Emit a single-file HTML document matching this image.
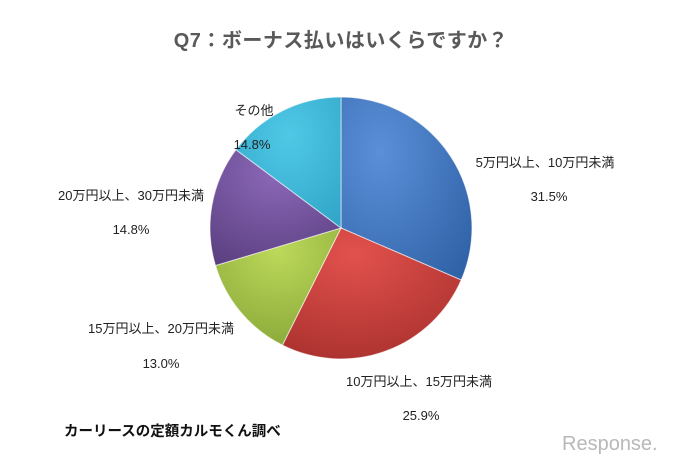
<!DOCTYPE html>
<html><head><meta charset="utf-8"><style>
body{margin:0;background:#fff;}
svg text{font-family:"Liberation Sans","Noto Sans CJK JP",sans-serif;}
</style></head><body>
<svg width="681" height="464" xmlns="http://www.w3.org/2000/svg">
<defs>
<radialGradient id="gb" cx="0.3" cy="0.3" r="0.9"><stop offset="0" stop-color="#5b8fd8"/><stop offset="1" stop-color="#2f62a6"/></radialGradient>
<radialGradient id="gr" cx="0.4" cy="0.2" r="0.9"><stop offset="0" stop-color="#e2514d"/><stop offset="1" stop-color="#a8302d"/></radialGradient>
<radialGradient id="gg" cx="0.5" cy="0.2" r="0.9"><stop offset="0" stop-color="#bcd95a"/><stop offset="1" stop-color="#86a536"/></radialGradient>
<radialGradient id="gp" cx="0.5" cy="0.2" r="0.9"><stop offset="0" stop-color="#8c68b8"/><stop offset="1" stop-color="#5a3f80"/></radialGradient>
<radialGradient id="gc" cx="0.5" cy="0.3" r="0.9"><stop offset="0" stop-color="#4fc8e6"/><stop offset="1" stop-color="#2ea2c4"/></radialGradient>
</defs>
<text x="341" y="47" text-anchor="middle" font-size="20" font-weight="bold" fill="#595959" letter-spacing="0.5">Q7：ボーナス払いはいくらですか？</text>
<g stroke="#ffffff" stroke-opacity="0.6" stroke-width="1">
<path d="M341,228 L341,97 A131,131 0 0 1 461.2,280 Z" fill="url(#gb)"/>
<path d="M341,228 L461.2,280 A131,131 0 0 1 282.4,345.1 Z" fill="url(#gr)"/>
<path d="M341,228 L282.4,345.1 A131,131 0 0 1 215.5,265.5 Z" fill="url(#gg)"/>
<path d="M341,228 L215.5,265.5 A131,131 0 0 1 235.9,149.7 Z" fill="url(#gp)"/>
<path d="M341,228 L235.9,149.7 A131,131 0 0 1 341,97 Z" fill="url(#gc)"/>
</g>
<g font-size="13" fill="#222">
<text x="254" y="115" text-anchor="middle">その他</text>
<text x="252" y="149" text-anchor="middle">14.8%</text>
<text x="545" y="167" text-anchor="middle">5万円以上、10万円未満</text>
<text x="549" y="201" text-anchor="middle">31.5%</text>
<text x="131" y="200" text-anchor="middle">20万円以上、30万円未満</text>
<text x="131" y="234" text-anchor="middle">14.8%</text>
<text x="161" y="333" text-anchor="middle">15万円以上、20万円未満</text>
<text x="161" y="368" text-anchor="middle">13.0%</text>
<text x="419" y="386" text-anchor="middle">10万円以上、15万円未満</text>
<text x="421" y="420" text-anchor="middle">25.9%</text>
</g>
<text x="64" y="436" font-size="14.5" font-weight="bold" fill="#111">カーリースの定額カルモくん調べ</text>
<text x="562" y="450" font-size="20" fill="#b8b8b8" font-family="Liberation Sans,sans-serif">Response.</text>
</svg>
</body></html>
